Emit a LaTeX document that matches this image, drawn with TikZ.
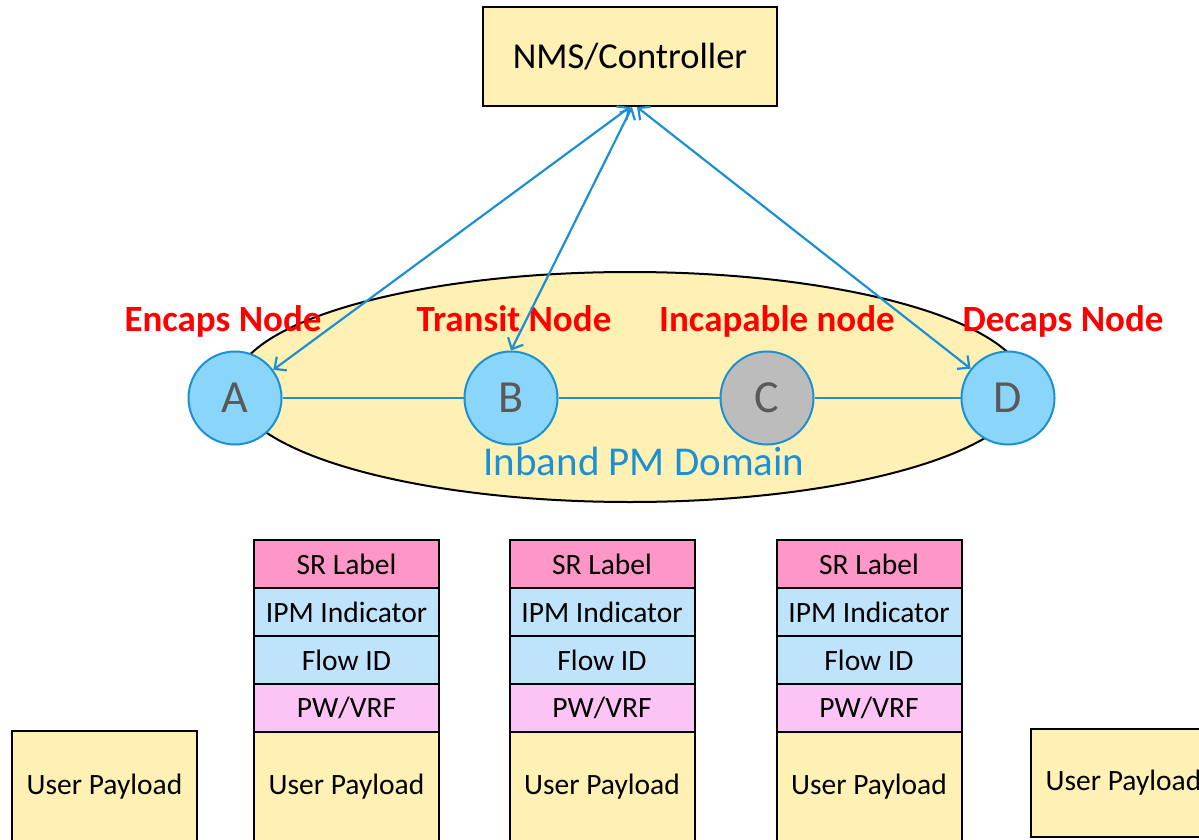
\documentclass[tikz,border=0pt]{standalone}
\usepackage{fontspec}
\setmainfont{Carlito}
\usetikzlibrary{positioning,arrows.meta,shapes.geometric}
\definecolor{PaleYellow}{HTML}{FFF1B4}
\definecolor{LinkBlue}{HTML}{1C90D2}
\definecolor{NodeBlue}{HTML}{8AD6FB}
\definecolor{NodeGray}{HTML}{BCBCBC}
\definecolor{LetterGray}{HTML}{595959}
\definecolor{SRPink}{HTML}{FF96C8}
\definecolor{IPMBlue}{HTML}{BEE3FA}
\definecolor{VRFPink}{HTML}{FBC4F4}

\tikzset{
  hdr/.style={draw=black, line width=2pt, inner sep=0pt, outer sep=0pt,
    minimum width=185pt, minimum height=48pt,
    font=\fontsize{29.5}{30}\selectfont},
  payload/.style={hdr, fill=PaleYellow},
  pmnode/.style={circle, draw=LinkBlue, line width=2pt, fill=NodeBlue,
    minimum size=93pt, inner sep=0pt, text=LetterGray,
    font=\fontsize{46}{46}\selectfont},
  role/.style={anchor=base, text=red, font=\bfseries\fontsize{37}{37}\selectfont},
  ctrl/.style={LinkBlue, line width=2.2pt, {Straight Barb[length=9pt,width=17pt]}-{Straight Barb[length=9pt,width=17pt]}}
}

\begin{document}
\begin{tikzpicture}[x=1pt,y=-1pt]
  \useasboundingbox (0,0) rectangle (1199,840);
  \clip (0,0) rectangle (1199,840);

  % controller on top
  \node[
    draw=black,
    line width=2pt,
    fill=PaleYellow,
    minimum width=294pt,
    minimum height=99pt,
    font=\fontsize{36.5}{36}\selectfont
  ] (nms) at (630,56.5) {NMS/Controller};

  % the PM domain and its four nodes
  \node[ellipse, draw=black, line width=2pt, fill=PaleYellow,
    minimum width=792pt, minimum height=230pt, inner sep=0pt] (domain) at (630,387) {};
  \node[anchor=base, text=LinkBlue, font=\fontsize{41}{41}\selectfont]
    (domlabel) at (644,475) {Inband PM Domain};

  \node[pmnode] (A) at (235,398) {A};
  \node[pmnode] (B) at (511,398) {B};
  \node[pmnode, fill=NodeGray] (C) at (767,398) {C};
  \node[pmnode] (D) at (1008,398) {D};
  \draw[LinkBlue, line width=2pt] (A) -- (B) (B) -- (C) (C) -- (D);

  \node[role] (encaps) at (223,331) {Encaps Node};
  \node[role] (transit) at (514,331) {Transit Node};
  \node[role] (incap) at (777,331) {Incapable node};
  \node[role] (decaps) at (1063,331) {Decaps Node};

  % management sessions
  \draw[ctrl] (nms.south) -- (A);
  \draw[ctrl] ([xshift=2pt]nms.south) -- (B.north);
  \draw[ctrl] ([xshift=7pt]nms.south) -- (D);

  % packet as it leaves A, B and C
  \node[payload, minimum height=112pt] (pay0) at (104.5,787) {User Payload};
  \foreach \cx/\i in {346.5/1, 602/2, 869/3} {
    \node[hdr, fill=SRPink] (sr\i) at (\cx,564) {SR Label};
    \node[hdr, fill=IPMBlue, below=0pt of sr\i] (ipm\i) {IPM Indicator};
    \node[hdr, fill=IPMBlue, below=0pt of ipm\i] (flow\i) {Flow ID};
    \node[hdr, fill=VRFPink, below=0pt of flow\i] (vrf\i) {PW/VRF};
    \node[payload, minimum height=110pt, below=0pt of vrf\i] (pay\i) {User Payload};
  }
  \node[payload, minimum height=108pt] (pay4) at (1123.5,783) {User Payload};
\end{tikzpicture}
\end{document}
